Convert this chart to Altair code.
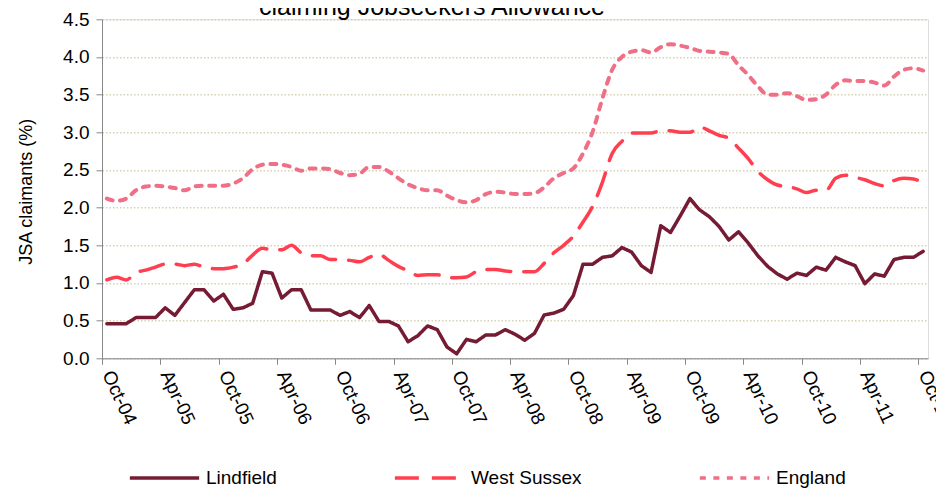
import altair as alt
import pandas as pd

title_text = "claiming Jobseekers Allowance"
month_labels = ["Oct-04", "Apr-05", "Oct-05", "Apr-06", "Oct-06", "Apr-07", "Oct-07",
                "Apr-08", "Oct-08", "Apr-09", "Oct-09", "Apr-10", "Oct-10", "Apr-11", "Oct-11"]
series_names = ["Lindfield", "West Sussex", "England"]

lindfield = [0.46, 0.46, 0.46, 0.54, 0.54, 0.54, 0.67, 0.57, 0.74, 0.91,
             0.91, 0.76, 0.85, 0.65, 0.67, 0.73, 1.15, 1.13, 0.80, 0.91,
             0.91, 0.64, 0.64, 0.64, 0.57, 0.62, 0.54, 0.70, 0.49, 0.49,
             0.43, 0.22, 0.30, 0.43, 0.38, 0.15, 0.06, 0.25, 0.22, 0.31,
             0.31, 0.38, 0.32, 0.24, 0.33, 0.575, 0.60, 0.65, 0.83, 1.25,
             1.25, 1.34, 1.36, 1.47, 1.41, 1.23, 1.14, 1.76, 1.67, 1.89,
             2.12, 1.97, 1.88, 1.75, 1.57, 1.68, 1.53, 1.36, 1.22, 1.12,
             1.05, 1.13, 1.10, 1.21, 1.17, 1.34, 1.28, 1.23, 0.99, 1.12,
             1.09, 1.31, 1.34, 1.34, 1.42]
west_sussex = [1.04, 1.075, 1.04, 1.14, 1.17, 1.21, 1.25, 1.25, 1.23, 1.25,
               1.21, 1.19, 1.19, 1.21, 1.25, 1.37, 1.46, 1.44, 1.44, 1.50,
               1.40, 1.36, 1.36, 1.31, 1.31, 1.30, 1.28, 1.34, 1.38, 1.30,
               1.22, 1.16, 1.10, 1.11, 1.11, 1.07, 1.07, 1.08, 1.15, 1.18,
               1.18, 1.16, 1.15, 1.15, 1.15, 1.26, 1.40, 1.50, 1.62, 1.81,
               2.02, 2.34, 2.72, 2.88, 2.99, 2.99, 2.99, 3.02, 3.02, 3.00,
               3.00, 3.07, 3.02, 2.96, 2.92, 2.79, 2.65, 2.48, 2.37, 2.30,
               2.28, 2.25, 2.20, 2.23, 2.23, 2.39, 2.43, 2.40, 2.37, 2.32,
               2.29, 2.36, 2.39, 2.38, 2.33]
england = [2.12, 2.09, 2.12, 2.23, 2.28, 2.29, 2.28, 2.26, 2.23, 2.28,
           2.29, 2.29, 2.29, 2.32, 2.39, 2.51, 2.57, 2.58, 2.57, 2.54,
           2.49, 2.52, 2.52, 2.51, 2.46, 2.43, 2.45, 2.54, 2.54, 2.48,
           2.39, 2.31, 2.26, 2.23, 2.23, 2.16, 2.10, 2.07, 2.10, 2.18,
           2.21, 2.20, 2.18, 2.18, 2.19, 2.27, 2.39, 2.46, 2.52, 2.72,
           3.01, 3.45, 3.83, 4.00, 4.07, 4.09, 4.06, 4.13, 4.17, 4.15,
           4.12, 4.08, 4.07, 4.06, 4.04, 3.89, 3.76, 3.61, 3.50, 3.50,
           3.52, 3.48, 3.43, 3.44, 3.50, 3.63, 3.69, 3.68, 3.68, 3.66,
           3.62, 3.74, 3.83, 3.85, 3.82]

y_ticks = [0.0, 0.5, 1.0, 1.5, 2.0, 2.5, 3.0, 3.5, 4.0, 4.5]
colors = ["#751B33", "#FF3F4F", "#EF6F87"]
dashes = [[1, 0], [24, 13], [6, 7.5]]

rows = []
for name, vals in zip(series_names, [lindfield, west_sussex, england]):
    for k, v in enumerate(vals):
        rows.append({"series": name, "t": k + 0.5, "value": v})
df = pd.DataFrame(rows)

label_js = "[" + ",".join("'" + s + "'" for s in month_labels) + "]"
FONT = "Liberation Sans"

legend = alt.Legend(
    title=None, orient="none", legendX=26, legendY=422, direction="horizontal",
    symbolType="stroke", symbolSize=4800, symbolStrokeWidth=3.5,
    labelFontSize=19, labelFont=FONT, labelColor="black", labelOffset=5,
    columnPadding=110, padding=0,
)

x = alt.X(
    "t:Q",
    scale=alt.Scale(domain=[0, 85], nice=False, zero=False),
    axis=alt.Axis(
        values=list(range(0, 85, 6)),
        labelExpr=label_js + "[round(datum.value/6)]",
        labelAngle=65, labelAlign="left", labelBaseline="middle",
        labelOffset=4.86, labelPadding=7, tickSize=6,
        labelFont=FONT, labelFontSize=19, labelColor="black",
        labelOverlap=False, labelBound=False, labelFlush=False,
        title=None, grid=False,
    ),
)
y = alt.Y(
    "value:Q",
    scale=alt.Scale(domain=[0, 4.5], nice=False),
    axis=alt.Axis(
        values=y_ticks, format=".1f", tickSize=6, labelPadding=7,
        labelFont=FONT, labelFontSize=19, labelColor="black",
        title="JSA claimants (%)", titleFontSize=18, titleFont=FONT,
        titleFontWeight="normal", titleColor="black",
        titleX=-76, titleY=172, titleAngle=-90, titleAlign="center",
        titleBaseline="middle",
        grid=True, gridColor="#D8D2B4", gridDash=[1.5, 2], gridWidth=1.6,
    ),
)
color = alt.Color("series:N", scale=alt.Scale(domain=series_names, range=colors), legend=legend)
dash = alt.StrokeDash("series:N", scale=alt.Scale(domain=series_names, range=dashes), legend=legend)

base = alt.Chart(df).encode(x=x, y=y, color=color, strokeDash=dash)

lind = base.transform_filter(alt.datum.series == "Lindfield").mark_line(
    interpolate="linear", strokeWidth=3.5, strokeCap="round", strokeJoin="round")
ws = base.transform_filter(alt.datum.series == "West Sussex").mark_line(
    interpolate="monotone", strokeWidth=3.5, strokeCap="round", strokeJoin="round")
eng = base.transform_filter(alt.datum.series == "England").mark_line(
    interpolate="monotone", strokeWidth=4, strokeCap="round", strokeJoin="round")

title_layer = alt.Chart(pd.DataFrame({"title": [title_text]})).mark_text(
    font=FONT, fontSize=25, color="black", align="center", baseline="alphabetic",
).encode(text="title:N", x=alt.value(330), y=alt.value(-4))

chart = alt.layer(eng, ws, lind, title_layer).properties(
    width=826,
    height=339,
    autosize=alt.AutoSizeParams(type="none"),
    padding={"left": 94, "top": 11.3, "right": 8, "bottom": 130.7},
).configure_view(stroke=None).configure_axis(
    domainColor="#868686", tickColor="#868686", domainWidth=1.6, tickWidth=1.6,
).configure(background="white")

chart.save("out.html", embed_options={"renderer": "svg", "actions": False})
